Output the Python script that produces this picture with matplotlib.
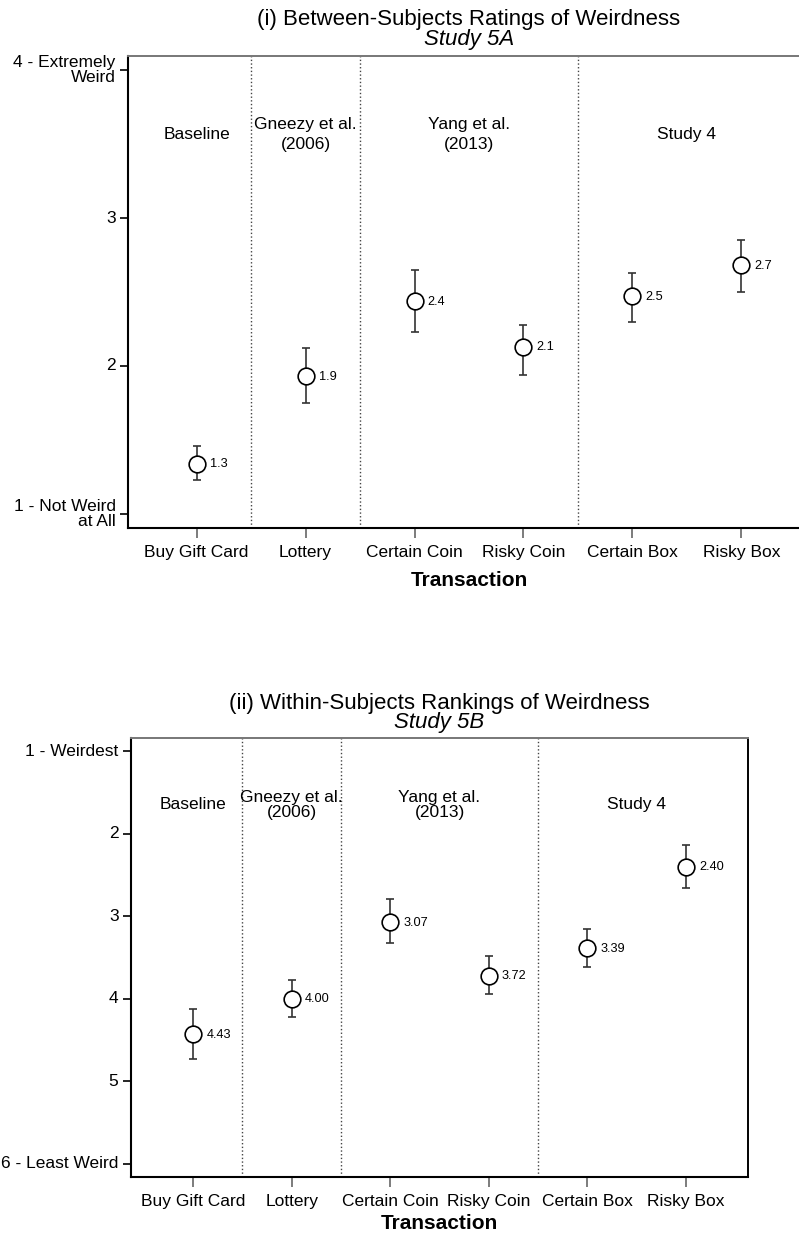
import numpy as np
import matplotlib
matplotlib.use("Agg")
import matplotlib.pyplot as plt

plt.rcParams["font.family"] = ["Liberation Sans", "DejaVu Sans"]

TRANSACTIONS = ["Buy Gift Card", "Lottery", "Certain Coin", "Risky Coin", "Certain Box", "Risky Box"]

# groups: label, first index, last index
GROUPS = [
    ("Baseline", 0, 0),
    ("Gneezy et al.\n(2006)", 1, 1),
    ("Yang et al.\n(2013)", 2, 3),
    ("Study 4", 4, 5),
]

# Study 5A - between-subjects ratings (1-4)
RATING_MEAN = [1.34, 1.93, 2.44, 2.13, 2.47, 2.68]
RATING_LOW = [1.23, 1.75, 2.23, 1.94, 2.30, 2.50]
RATING_HIGH = [1.46, 2.12, 2.65, 2.28, 2.63, 2.85]
RATING_TICKS = [1, 2, 3, 4]
RATING_TICKLABELS = ["1 - Not Weird\nat All", "2", "3", "4 - Extremely\nWeird"]

# Study 5B - within-subjects rankings (1-6)
RANK_MEAN = [4.43, 4.00, 3.07, 3.72, 3.39, 2.40]
RANK_LOW = [4.12, 3.77, 2.79, 3.48, 3.15, 2.14]
RANK_HIGH = [4.73, 4.22, 3.33, 3.94, 3.62, 2.66]
RANK_TICKS = [1, 2, 3, 4, 5, 6]
RANK_TICKLABELS = ["1 - Weirdest", "2", "3", "4", "5", "6 - Least Weird"]


def draw_panel(ax, means, lows, highs, fmt, group_y, group_spacing, xpad,
               title, subtitle):
    x = np.arange(len(TRANSACTIONS))
    means = np.array(means)
    yerr = [means - np.array(lows), np.array(highs) - means]

    ax.errorbar(x, means, yerr=yerr, fmt="none", ecolor="#333333",
                elinewidth=1.2, capsize=2.7, capthick=1.2, zorder=2)
    ax.plot(x, means, "o", ms=12, mfc="white", mec="black", mew=1.2, zorder=3)
    for xi, m in zip(x, means):
        ax.annotate(fmt.format(m), (xi, m), xytext=(9.5, -0.5),
                    textcoords="offset points", ha="left", va="center",
                    fontsize=9.2)

    # group dividers and group names
    for i, (name, start, end) in enumerate(GROUPS):
        ax.text((start + end) / 2, group_y, name, ha="center", va="center",
                fontsize=12.5, linespacing=group_spacing)
        if i > 0:
            ax.axvline(start - 0.5, color="#444444", ls=":", lw=1, zorder=1)

    ax.set_xlim(-0.63, 5.63)
    ax.set_xticks(x)
    ax.set_xticklabels(TRANSACTIONS, fontsize=12.5)
    ax.set_xlabel("Transaction", fontsize=15, fontweight="bold", labelpad=xpad)

    for side in ["left", "bottom"]:
        ax.spines[side].set_linewidth(1.5)
        ax.spines[side].set_color("black")
    ax.spines["top"].set_color("#777777")
    ax.spines["top"].set_linewidth(1.4)
    ax.spines["right"].set_linewidth(1.4)

    ax.tick_params(axis="y", direction="out", length=6, width=1.2,
                   color="black", pad=3)
    ax.tick_params(axis="x", direction="out", length=7, width=1.2,
                   color="#666666", pad=5)
    for lab in ax.get_yticklabels():
        lab.set_verticalalignment("center")
        lab.set_multialignment("right")
        lab.set_fontsize(12.5)
        lab.set_linespacing(1.05)

    ax.text(0.5, 1.066, title, transform=ax.transAxes, ha="center",
            va="baseline", fontsize=16)
    ax.text(0.5, 1.023, subtitle, transform=ax.transAxes, ha="center",
            va="baseline", fontsize=16, style="italic")


fig = plt.figure(figsize=(7.99, 12.37), dpi=100)
ax1 = fig.add_axes([128 / 799, 1 - 528 / 1237, 682 / 799, 472 / 1237])
ax2 = fig.add_axes([131 / 799, 1 - 1177 / 1237, 617 / 799, 439 / 1237])

ax1.set_ylim(0.905, 4.095)
ax1.set_yticks(RATING_TICKS)
ax1.set_yticklabels(RATING_TICKLABELS)
draw_panel(ax1, RATING_MEAN, RATING_LOW, RATING_HIGH, "{:.1f}", 3.565, 1.35, 8,
           "(i) Between-Subjects Ratings of Weirdness", "Study 5A")

ax2.set_ylim(6.16, 0.84)
ax2.set_yticks(RANK_TICKS)
ax2.set_yticklabels(RANK_TICKLABELS)
draw_panel(ax2, RANK_MEAN, RANK_LOW, RANK_HIGH, "{:.2f}", 1.65, 1.05, 4,
           "(ii) Within-Subjects Rankings of Weirdness", "Study 5B")

fig.savefig("out.png", dpi=100)
